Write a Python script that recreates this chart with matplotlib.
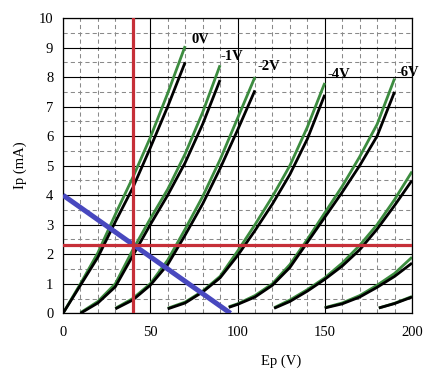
import matplotlib.pyplot as plt
from matplotlib.ticker import MultipleLocator

plt.rcParams['font.family'] = ['Liberation Serif', 'DejaVu Serif']

# plate curves: Ep (V) and Ip (mA)
# black = measured, green = model
ep_0 = [0, 10, 20, 30, 40, 50, 60, 70]
ip_0_meas = [0, 0.95, 1.9, 3.1, 4.25, 5.6, 7.0, 8.5]
ip_0_model = [0, 1.0, 2.05, 3.35, 4.6, 5.95, 7.45, 9.05]

ep_1 = [10, 20, 30, 40, 50, 60, 70, 80, 90]
ip_1_meas = [0, 0.35, 0.9, 1.95, 3.0, 4.0, 5.1, 6.4, 7.9]
ip_1_model = [0.02, 0.4, 1.0, 2.15, 3.2, 4.2, 5.4, 6.8, 8.4]

ep_2 = [30, 40, 50, 60, 70, 80, 90, 100, 110]
ip_2_meas = [0.15, 0.45, 0.95, 1.65, 2.65, 3.7, 4.9, 6.2, 7.55]
ip_2_model = [0.17, 0.5, 1.0, 1.8, 2.85, 3.95, 5.2, 6.6, 8.0]

ep_4 = [60, 70, 80, 90, 100, 110, 120, 130, 140, 150]
ip_4_meas = [0.15, 0.35, 0.72, 1.2, 1.95, 2.8, 3.7, 4.7, 5.9, 7.4]
ip_4_model = [0.17, 0.38, 0.75, 1.25, 2.1, 3.0, 3.95, 5.0, 6.3, 7.8]

ep_6 = [95, 100, 110, 120, 130, 140, 150, 160, 170, 180, 190]
ip_6_meas = [0.2, 0.3, 0.55, 0.95, 1.55, 2.4, 3.25, 4.1, 5.0, 6.0, 7.5]
ip_6_model = [0.22, 0.32, 0.6, 1.0, 1.65, 2.5, 3.4, 4.3, 5.3, 6.4, 7.95]

ep_8 = [121, 130, 140, 150, 160, 170, 180, 190, 200]
ip_8_meas = [0.17, 0.4, 0.75, 1.15, 1.6, 2.15, 2.85, 3.65, 4.5]
ip_8_model = [0.19, 0.45, 0.8, 1.2, 1.7, 2.3, 3.0, 3.85, 4.8]

ep_10 = [150, 160, 170, 180, 190, 200]
ip_10_meas = [0.18, 0.32, 0.55, 0.88, 1.25, 1.7]
ip_10_model = [0.19, 0.35, 0.6, 0.95, 1.35, 1.9]

ep_12 = [181, 190, 200]
ip_12_meas = [0.18, 0.33, 0.55]
ip_12_model = [0.18, 0.34, 0.57]

curve_labels = ['0V', '-1V', '-2V', '-4V', '-6V']
label_pos = [(73.5, 9.27), (90.4, 8.69), (111.6, 8.37), (151.6, 8.07), (191.4, 8.14)]

# load line and operating point
load_ep = [0, 96]
load_ip = [4, 0]
q_ep = 40
q_ip = 2.3

curves = [
    (ep_0, ip_0_meas, ip_0_model),
    (ep_1, ip_1_meas, ip_1_model),
    (ep_2, ip_2_meas, ip_2_model),
    (ep_4, ip_4_meas, ip_4_model),
    (ep_6, ip_6_meas, ip_6_model),
    (ep_8, ip_8_meas, ip_8_model),
    (ep_10, ip_10_meas, ip_10_model),
    (ep_12, ip_12_meas, ip_12_model),
]

fig = plt.figure(figsize=(4.4, 3.68), dpi=100)
ax = fig.add_axes([63 / 440, 54.7 / 368, 349 / 440, 295.3 / 368])

ax.set_xlim(0, 200)
ax.set_ylim(0, 10)
ax.xaxis.set_major_locator(MultipleLocator(50))
ax.xaxis.set_minor_locator(MultipleLocator(10))
ax.yaxis.set_major_locator(MultipleLocator(1))
ax.yaxis.set_minor_locator(MultipleLocator(0.5))
ax.grid(which='minor', color='#8a8a8a', lw=0.75, ls=(0, (4, 3)), zorder=0)
ax.grid(which='major', color='black', lw=0.8, ls='-', zorder=0.5)
ax.set_axisbelow(True)
ax.tick_params(which='both', length=0, labelsize=10.5)
ax.tick_params(axis='x', pad=9)
ax.tick_params(axis='y', pad=7)
for s in ax.spines.values():
    s.set_linewidth(0.9)

green = '#3c8c3f'
for ep, meas, model in curves:
    ax.plot(ep, model, color=green, lw=2.0, zorder=2, solid_capstyle='butt')
    ax.plot(ep, meas, color='black', lw=2.0, zorder=3, solid_capstyle='butt')

ax.plot(load_ep, load_ip, color='#4848bf', lw=3.6, zorder=4, solid_capstyle='butt')
ax.axvline(q_ep, color='#c62f38', lw=2.3, zorder=5)
ax.axhline(q_ip, color='#c62f38', lw=2.3, zorder=5)

for txt, (x, y) in zip(curve_labels, label_pos):
    ax.text(x, y, txt, fontsize=10.5, fontweight='bold', ha='left', va='center',
            zorder=6, clip_on=False)

ax.set_xlabel('Ep (V)', fontsize=10.5)
ax.xaxis.set_label_coords(0.625, -0.14)
ax.set_ylabel('Ip (mA)', fontsize=10.5)
ax.yaxis.set_label_coords(-0.103, 0.5)

fig.savefig('out.png', dpi=100)
